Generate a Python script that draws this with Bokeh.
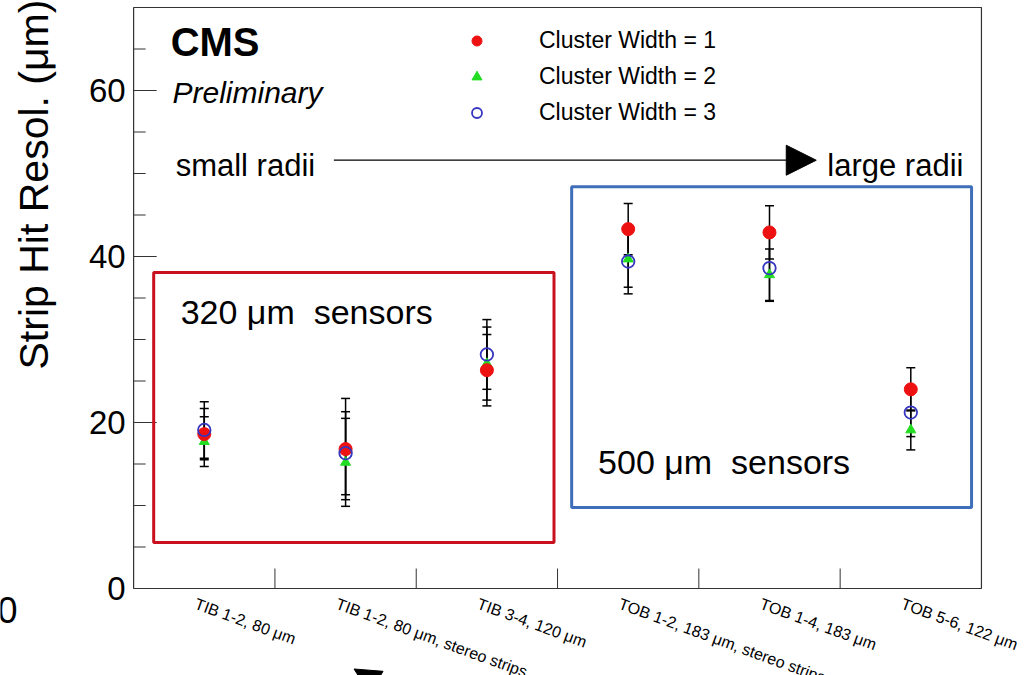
from bokeh.plotting import figure
from bokeh.models import (Range1d, Label, BoxAnnotation, Arrow, NormalHead,
                          Whisker, TeeHead, ColumnDataSource, Legend, LegendItem)
from bokeh.embed import file_html
from bokeh.resources import INLINE
import math

categories = ["TIB 1-2, 80 μm", "TIB 1-2, 80 μm, stereo strips", "TIB 3-4, 120 μm",
              "TOB 1-2, 183 μm, stereo strips", "TOB 1-4, 183 μm", "TOB 5-6, 122 μm"]
cw1 = [18.6, 16.8, 26.3, 43.3, 42.9, 24.0]
cw1_err = [3.1, 6.1, 4.3, 3.1, 3.2, 2.6]
cw2 = [17.7, 15.2, 27.1, 39.7, 37.8, 19.1]
cw2_err = [3.0, 5.3, 4.4, 3.4, 3.1, 2.4]
cw3 = [19.1, 16.3, 28.2, 39.4, 38.6, 21.2]
cw3_err = [3.4, 5.0, 4.2, 3.9, 4.0, 2.9]
series_names = ["Cluster Width = 1", "Cluster Width = 2", "Cluster Width = 3"]
y_ticks = [0, 20, 40, 60]
y_minor = [5, 10, 15, 25, 30, 35, 45, 50, 55, 65]
Y_MIN, Y_MAX = 0, 70
N = len(categories)

FONT = "Liberation Sans"
AX = "#333333"

# pixel scale of the reference axes box
PX_X = 141.17   # px per category
PX_Y = 8.3      # px per micron

# The drawing area covers the whole page (the reference is a crop whose labels are
# cut by the page edges); the axes box itself is drawn from 0..N, 0..70.
p = figure(width=1036, height=675, output_backend="svg", toolbar_location=None,
           x_range=Range1d(-133 / PX_X, N + 55 / PX_X),
           y_range=Range1d(-(675 - 588) / PX_Y, Y_MAX + 7 / PX_Y),
           x_axis_location=None, y_axis_location=None,
           min_border_left=0, min_border_right=0, min_border_top=0, min_border_bottom=0)
p.grid.visible = False
p.outline_line_color = None
p.background_fill_color = "white"
p.border_fill_color = "white"

# axes box
p.add_layout(BoxAnnotation(left=0, right=N, bottom=Y_MIN, top=Y_MAX, fill_alpha=0,
                           line_color=AX, line_alpha=1, line_width=1.2, level="underlay"))

# y ticks (inward) and tick labels
p.segment(x0=[0] * len(y_ticks), y0=y_ticks, x1=[23 / PX_X] * len(y_ticks), y1=y_ticks,
          line_color=AX, line_width=1)
p.segment(x0=[0] * len(y_minor), y0=y_minor, x1=[12 / PX_X] * len(y_minor), y1=y_minor,
          line_color=AX, line_width=1)
for t in y_ticks:
    p.add_layout(Label(x=0, y=t, x_offset=-8, text=str(t), text_align="right",
                       text_baseline="middle", text_font=FONT, text_font_size="33px",
                       text_color="black"))

# y axis title
p.add_layout(Label(x=-100 / PX_X, y=48.67, text="Strip Hit Resol. (μm)", angle=math.pi / 2,
                   text_align="center", text_baseline="middle",
                   text_font=FONT, text_font_size="41px", text_color="black"))

# partly visible "0" at the left page edge
p.add_layout(Label(x=-136 / PX_X, y=-2.65, text="0", text_align="left", text_baseline="middle",
                   text_font=FONT, text_font_size="36px", text_color="black"))

xs = [i + 0.5 for i in range(N)]

# inward tick marks at the category boundaries
bounds = list(range(1, N))
p.segment(x0=bounds, y0=[Y_MIN] * len(bounds), x1=bounds, y1=[20 / PX_Y] * len(bounds),
          line_color=AX, line_width=1)

# category labels, rotated
for xi, cat in zip(xs, categories):
    p.add_layout(Label(x=xi, y=-0.8, x_offset=-6, text=cat, angle=-0.35,
                       text_align="left", text_baseline="top",
                       text_font=FONT, text_font_size="16px", text_color="black"))

# error bars
for vals, errs in [(cw1, cw1_err), (cw2, cw2_err), (cw3, cw3_err)]:
    src = ColumnDataSource(dict(x=xs, upper=[v + e for v, e in zip(vals, errs)],
                                lower=[v - e for v, e in zip(vals, errs)]))
    w = Whisker(base="x", upper="upper", lower="lower", source=src,
                line_color="black", line_width=1.5,
                upper_head=TeeHead(size=9, line_color="black", line_width=1.5),
                lower_head=TeeHead(size=9, line_color="black", line_width=1.5))
    p.add_layout(w)

r2 = p.scatter(xs, cw2, marker="triangle", size=10, fill_color="#22dd22", line_color="#22dd22")
r1 = p.scatter(xs, cw1, marker="circle", size=13, fill_color="#ee1111", line_color="#ee1111")
r3 = p.scatter(xs, cw3, marker="circle", size=12.5, fill_color=None, line_color="#3535c0", line_width=1.8)

legend = Legend(items=[LegendItem(label=series_names[0], renderers=[r1]),
                       LegendItem(label=series_names[1], renderers=[r2]),
                       LegendItem(label=series_names[2], renderers=[r3])],
                location=(464, 549), padding=0, spacing=9, glyph_width=25, glyph_height=25,
                label_height=25, label_standoff=50, border_line_color=None,
                background_fill_alpha=0, label_text_font=FONT, label_text_font_size="23px",
                label_text_color="black")
p.add_layout(legend)

# CMS Preliminary
p.add_layout(Label(x=0.262, y=65.8, text="CMS", text_align="left", text_baseline="middle",
                   text_font=FONT, text_font_size="40px", text_font_style="bold", text_color="black"))
p.add_layout(Label(x=0.275, y=59.8, text="Preliminary", text_align="left", text_baseline="middle",
                   text_font=FONT, text_font_size="30px", text_font_style="italic", text_color="black"))

# radii arrow
p.add_layout(Label(x=0.2975, y=51.0, text="small radii", text_align="left", text_baseline="middle",
                   text_font=FONT, text_font_size="31px", text_color="black"))
p.add_layout(Label(x=4.909, y=51.0, text="large radii", text_align="left", text_baseline="middle",
                   text_font=FONT, text_font_size="31px", text_color="black"))
p.add_layout(Arrow(x_start=1.417, y_start=51.6, x_end=4.831, y_end=51.6, line_width=1.2,
                   line_color="black",
                   end=NormalHead(size=30, fill_color="black", line_color="black")))

# partly visible arrow head at the bottom edge
p.add_layout(Arrow(x_start=1.93, y_start=-13.5, x_end=1.56, y_end=-9.7, line_width=1.2,
                   line_color="black",
                   end=NormalHead(size=26, fill_color="black", line_color="black")))

# sensor boxes
p.add_layout(BoxAnnotation(left=0.142, right=2.975, bottom=5.54, top=38.07,
                           fill_alpha=0, line_color="#c8101e", line_alpha=1, line_width=3))
p.add_layout(BoxAnnotation(left=3.10, right=5.93, bottom=9.76, top=48.4,
                           fill_alpha=0, line_color="#3f6fba", line_alpha=1, line_width=3))
p.add_layout(Label(x=0.333, y=33.3, text="320 μm\u00a0 sensors", text_align="left", text_baseline="middle",
                   text_font=FONT, text_font_size="34px", text_color="black"))
p.add_layout(Label(x=3.287, y=15.3, text="500 μm\u00a0 sensors", text_align="left", text_baseline="middle",
                   text_font=FONT, text_font_size="34px", text_color="black"))

open("out.html", "w").write(file_html(p, INLINE))
